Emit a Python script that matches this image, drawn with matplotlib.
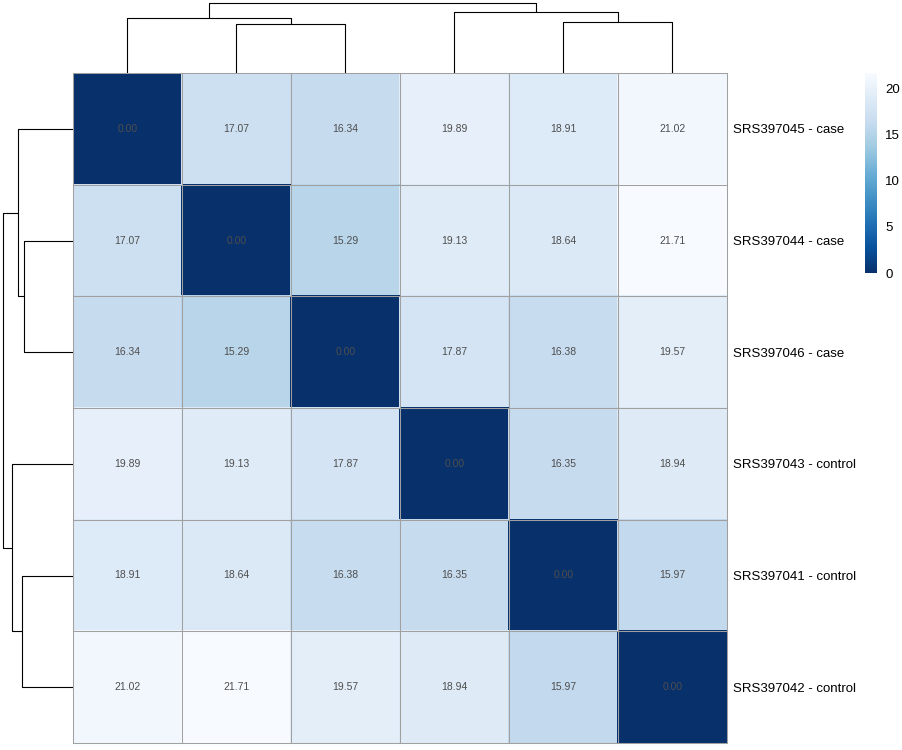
import numpy as np
import matplotlib
matplotlib.use('Agg')
import matplotlib.pyplot as plt

plt.rcParams['font.family'] = ['Liberation Sans', 'DejaVu Sans']

# samples in clustered order (rows and columns are the same)
samples = ['SRS397045 - case', 'SRS397044 - case', 'SRS397046 - case',
           'SRS397043 - control', 'SRS397041 - control', 'SRS397042 - control']

dist = np.array([
    [0.00, 17.07, 16.34, 19.89, 18.91, 21.02],
    [17.07, 0.00, 15.29, 19.13, 18.64, 21.71],
    [16.34, 15.29, 0.00, 17.87, 16.38, 19.57],
    [19.89, 19.13, 17.87, 0.00, 16.35, 18.94],
    [18.91, 18.64, 16.38, 16.35, 0.00, 15.97],
    [21.02, 21.71, 19.57, 18.94, 15.97, 0.00],
])

# tree merges: (node a, node b, height); new nodes numbered from 6 upward
merges = [(1, 2, 49.0), (0, 6, 55.0), (4, 5, 51.0), (3, 8, 60.7), (7, 9, 69.7)]

W, H = 903, 750
fig = plt.figure(figsize=(W / 100, H / 100), dpi=100)

# pixel layout
hx0, hx1, hy0, hy1 = 73, 727, 73, 743


def fax(x0, y0, x1, y1):
    return fig.add_axes([x0 / W, 1 - y1 / H, (x1 - x0) / W, (y1 - y0) / H])


def draw_tree(ax, vertical):
    pos = {i: i + 0.5 for i in range(len(samples))}
    hgt = {i: 0.0 for i in range(len(samples))}
    for k, (a, b, h) in enumerate(merges):
        xs = [pos[a], pos[a], pos[b], pos[b]]
        ys = [hgt[a], h, h, hgt[b]]
        if vertical:
            ax.plot(xs, ys, color='black', lw=0.8, solid_capstyle='butt')
        else:
            ax.plot(ys, xs, color='black', lw=0.8, solid_capstyle='butt')
        node = len(samples) + k
        pos[node] = (pos[a] + pos[b]) / 2
        hgt[node] = h
    ax.set_axis_off()


# heatmap
ax = fax(hx0, hy0, hx1, hy1)
n = len(samples)
mesh = ax.pcolormesh(dist, cmap='Blues_r', vmin=0, vmax=dist.max(),
                     edgecolors='face', linewidth=0.3)
# cell borders as snapped lines
for k in range(n + 1):
    ax.plot([k, k], [0, n], color='#A0A0A0', lw=0.75, clip_on=False)
    ax.plot([0, n], [k, k], color='#A0A0A0', lw=0.75, clip_on=False)
ax.set_xlim(0, n)
ax.set_ylim(n, 0)
for i in range(n):
    for j in range(n):
        ax.text(j + 0.5, i + 0.5, '{:.2f}'.format(dist[i, j]), ha='center',
                va='center', fontsize=7.5, color='#4D4D4D')
ax.set_xticks([])
ax.set_yticks(np.arange(n) + 0.5)
ax.set_yticklabels(samples, fontsize=9.5)
ax.yaxis.tick_right()
ax.tick_params(axis='y', length=0, pad=4)
for s in ax.spines.values():
    s.set_visible(False)

# top dendrogram
axt = fax(hx0, 0, hx1, hy0)
draw_tree(axt, True)
axt.set_xlim(0, n)
axt.set_ylim(0, 73)

# left dendrogram
axl = fax(0, hy0, hx0, hy1)
draw_tree(axl, False)
axl.set_xlim(73, 0)
axl.set_ylim(n, 0)

# colorbar
cax = fax(865, 73, 877, 273)
cb = fig.colorbar(mesh, cax=cax, ticks=[0, 5, 10, 15, 20])
cb.outline.set_visible(False)
cax.tick_params(length=0, labelsize=9.5, pad=6)

fig.savefig('out.png', dpi=100)
